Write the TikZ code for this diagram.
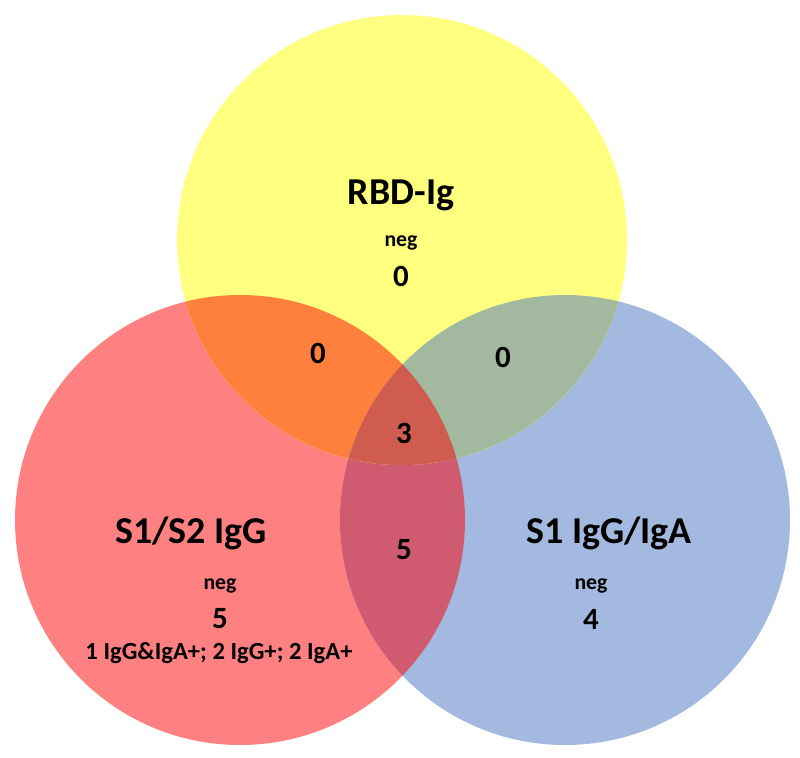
\documentclass[tikz,border=0pt]{standalone}
\usepackage{fontspec}
\setmainfont{Carlito}
\usepackage{xcolor}
\usepackage{tikz}
\usetikzlibrary{positioning, calc}

\definecolor{setYellow}{HTML}{FFFF80}
\definecolor{setRed}{HTML}{FF8080}
\definecolor{setBlue}{HTML}{A3B9E0}
\definecolor{setRedYellow}{HTML}{FF803C}
\definecolor{setBlueYellow}{HTML}{A2B9A0}
\definecolor{setRedBlue}{HTML}{D05A6F}
\definecolor{setAll}{HTML}{D05B4F}

\tikzset{
    title/.style={font=\bfseries\fontsize{27}{32}\selectfont, inner sep=0pt},
    neglabel/.style={font=\bfseries\fontsize{15.5}{18}\selectfont, inner sep=0pt},
    count/.style={font=\bfseries\fontsize{22}{26}\selectfont, inner sep=0pt},
    note/.style={font=\bfseries\fontsize{17.5}{21}\selectfont, inner sep=0pt}
}

\begin{document}
\begin{tikzpicture}[x=0.025cm, y=-0.025cm]
    \useasboundingbox (0,0) rectangle (800,757);

    % Circle centres
    \coordinate (Cy) at (402,240);
    \coordinate (Cr) at (240,520);
    \coordinate (Cb) at (565,520);

    % Lower circles
    \fill[setRed] (Cr) circle (225);
    \fill[setBlue] (Cb) circle (225);
    \begin{scope}
        \clip (Cr) circle (225);
        \fill[setRedBlue] (Cb) circle (225);
    \end{scope}

    % Upper circle and overlaps
    \fill[setYellow] (Cy) circle (225);
    \begin{scope}
        \clip (Cy) circle (225);
        \fill[setRedYellow] (Cr) circle (225);
        \fill[setBlueYellow] (Cb) circle (225);
        \clip (Cr) circle (225);
        \fill[setAll] (Cb) circle (225);
    \end{scope}

    % RBD-Ig
    \node[title] (rbd) at (401,195) {RBD-Ig};
    \node[neglabel] (rbdneg) at (401,243) {neg};
    \node[count] (rbdnum) at (401,276) {0};

    % Overlaps
    \node[count] (ry) at (318,353) {0};
    \node[count] (by) at (503,357) {0};
    \node[count] (all) at (404,433) {3};
    \node[count] (rb) at (404,550) {5};

    % S1/S2 IgG
    \node[title] (sonetwo) at (191,533) {S1/S2 IgG};
    \node[neglabel] (sonetwoneg) at (220,586) {neg};
    \node[count] (sonetwonum) at (220,619) {5};
    \node[note] (sonetwonote) at (219,653) {1 IgG\&IgA+; 2 IgG+; 2 IgA+};

    % S1 IgG/IgA
    \node[title] (sone) at (609,533) {S1 IgG/IgA};
    \node[neglabel] (soneneg) at (591,586) {neg};
    \node[count] (sonenum) at (591,619) {4};
\end{tikzpicture}
\end{document}
